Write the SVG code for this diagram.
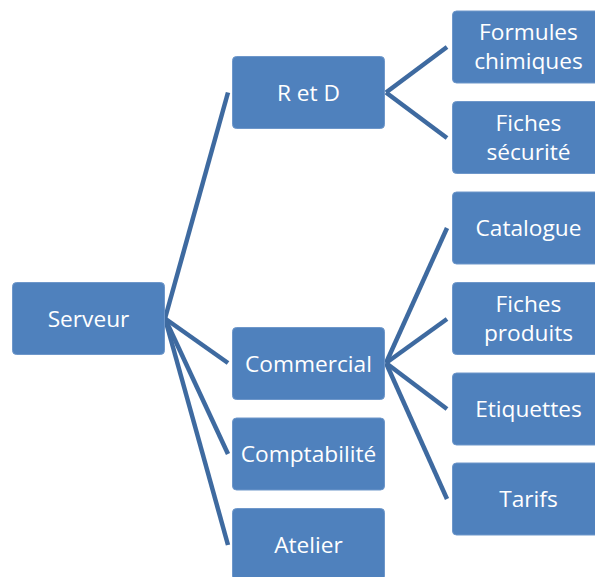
<svg xmlns="http://www.w3.org/2000/svg" width="595" height="577" viewBox="0 0 595 577">
<style>
.box{fill:#4F81BD;stroke:#6E97CA;stroke-width:1}
.lbl{font-family:"Open Sans","Liberation Sans",sans-serif;font-size:22.7px;fill:#FFFFFF;text-anchor:middle}
.c{stroke:#3E6AA0;stroke-width:4.5;fill:none;stroke-linecap:butt}
</style>
<rect width="595" height="577" fill="#FFFFFF"/>
<g id="connectors">
<line class="c" x1="165" y1="318.5" x2="228" y2="92.5"/>
<line class="c" x1="165" y1="318.5" x2="228" y2="363"/>
<line class="c" x1="165" y1="318.5" x2="228" y2="454"/>
<line class="c" x1="165" y1="318.5" x2="228" y2="545"/>
<line class="c" x1="386" y1="92.5" x2="447" y2="47"/>
<line class="c" x1="386" y1="92.5" x2="447" y2="138"/>
<line class="c" x1="386" y1="363" x2="447" y2="228"/>
<line class="c" x1="386" y1="363" x2="447" y2="319"/>
<line class="c" x1="386" y1="363" x2="447" y2="409"/>
<line class="c" x1="386" y1="363" x2="447" y2="499"/>
</g>
<g id="serveur"><rect class="box" x="12.5" y="282.5" width="152" height="72" rx="4"/><text class="lbl" x="88.5" y="326.5">Serveur</text></g>
<g id="retd"><rect class="box" x="232.5" y="56.5" width="152" height="72" rx="4"/><text class="lbl" x="308.5" y="100.5">R et D</text></g>
<g id="commercial"><rect class="box" x="232.5" y="327.5" width="152" height="72" rx="4"/><text class="lbl" x="308.5" y="371.5">Commercial</text></g>
<g id="comptabilite"><rect class="box" x="232.5" y="418" width="152" height="72" rx="4"/><text class="lbl" x="308.5" y="462">Comptabilité</text></g>
<g id="atelier"><rect class="box" x="232.5" y="508.5" width="152" height="72" rx="4"/><text class="lbl" x="308.5" y="552.5">Atelier</text></g>
<g id="formules"><rect class="box" x="452.5" y="11" width="152" height="72" rx="4"/><text class="lbl" x="528.5" y="39.5">Formules</text><text class="lbl" x="528.5" y="69">chimiques</text></g>
<g id="fichessecurite"><rect class="box" x="452.5" y="101.5" width="152" height="72" rx="4"/><text class="lbl" x="528.5" y="130.5">Fiches</text><text class="lbl" x="528.5" y="160">sécurité</text></g>
<g id="catalogue"><rect class="box" x="452.5" y="192" width="152" height="72" rx="4"/><text class="lbl" x="528.5" y="236">Catalogue</text></g>
<g id="fichesproduits"><rect class="box" x="452.5" y="282.5" width="152" height="72" rx="4"/><text class="lbl" x="528.5" y="311.5">Fiches</text><text class="lbl" x="528.5" y="341">produits</text></g>
<g id="etiquettes"><rect class="box" x="452.5" y="373" width="152" height="72" rx="4"/><text class="lbl" x="528.5" y="417">Etiquettes</text></g>
<g id="tarifs"><rect class="box" x="452.5" y="463" width="152" height="72" rx="4"/><text class="lbl" x="528.5" y="507">Tarifs</text></g>
</svg>
